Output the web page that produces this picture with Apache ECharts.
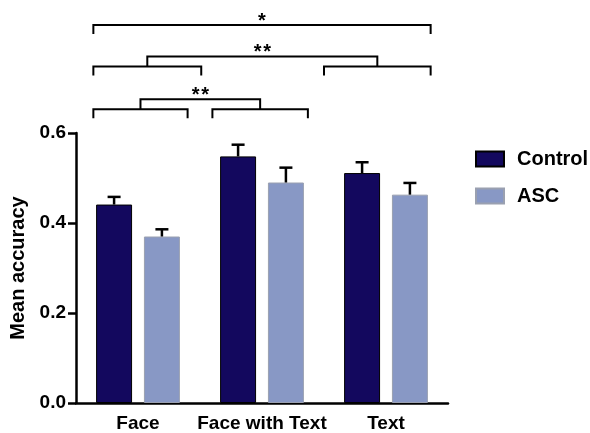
<!DOCTYPE html>
<html>
<head>
<meta charset="utf-8">
<script src="https://cdn.jsdelivr.net/npm/echarts@6/dist/echarts.min.js"></script>
<style>html,body{margin:0;padding:0;background:#fff}#c{width:590px;height:433px}</style>
</head>
<body>
<div id="c"></div>
<script>
var categories = ['Face', 'Face with Text', 'Text'];
var controlMean = [0.441, 0.548, 0.511];
var controlErr = [0.017, 0.026, 0.024];
var ascMean = [0.370, 0.490, 0.463];
var ascErr = [0.016, 0.033, 0.026];
var yTicks = [0.0, 0.2, 0.4, 0.6];
// significance brackets in category units (x) and accuracy units (y)
var groupBrackets = [
  { left: [-0.36, 0.40], right: [0.60, 1.37], level: 0.653, label: '*\u200A*' },
  { left: [-0.36, 0.51], right: [1.50, 2.36], level: 0.748, label: '*\u200A*' }
];
var spanBrackets = [
  { span: [-0.36, 2.36], level: 0.840, label: '*' }
];

var FONT = '"Liberation Sans", Arial, Helvetica, sans-serif';
var BAR_W = 0.29, BAR_GAP = 0.33;
var chart = echarts.init(document.getElementById('c'), null, { renderer: 'canvas' });

function errRender(means, errs, sign) {
  return function (params, api) {
    var i = params.dataIndex;
    var bw = api.size([1, 0])[0];
    var barW = bw * BAR_W;
    var off = sign * barW * (1 + BAR_GAP) / 2;
    var p0 = api.coord([i, means[i]]);
    var p1 = api.coord([i, means[i] + errs[i]]);
    var x = p0[0] + off;
    var cap = 6.5;
    var st = { stroke: '#000', lineWidth: 2.5 };
    return { type: 'group', children: [
      { type: 'line', shape: { x1: x, y1: p0[1], x2: x, y2: p1[1] }, style: st },
      { type: 'line', shape: { x1: x - cap, y1: p1[1], x2: x + cap, y2: p1[1] }, style: st }
    ] };
  };
}

function bracketRender(params, api) {
  var bw = api.size([1, 0])[0];
  var c0 = api.coord([0, 0])[0];
  function X(u) { return c0 + u * bw; }
  function Y(v) { return api.coord([0, v])[1]; }
  var st = { stroke: '#000', lineWidth: 2, fill: null };
  var children = [];
  var legH = 9, connH = 10;
  var starFont = 'bold 20px ' + FONT;
  groupBrackets.forEach(function (b) {
    var yS = Y(b.level);
    [b.left, b.right].forEach(function (s) {
      children.push({ type: 'polyline', shape: { points: [[X(s[0]), yS + legH], [X(s[0]), yS], [X(s[1]), yS], [X(s[1]), yS + legH]] }, style: st });
    });
    var lc = X((b.left[0] + b.left[1]) / 2), rc = X((b.right[0] + b.right[1]) / 2);
    var yC = yS - connH;
    children.push({ type: 'polyline', shape: { points: [[lc, yS], [lc, yC], [rc, yC], [rc, yS]] }, style: st });
    children.push({ type: 'text', style: { text: b.label, x: (lc + rc) / 2, y: yC - 4, align: 'center', verticalAlign: 'middle', font: starFont, fill: '#000' } });
  });
  spanBrackets.forEach(function (b) {
    var yS = Y(b.level);
    var a = X(b.span[0]), z = X(b.span[1]);
    children.push({ type: 'polyline', shape: { points: [[a, yS + legH], [a, yS], [z, yS], [z, yS + legH]] }, style: st });
    children.push({ type: 'text', style: { text: b.label, x: (a + z) / 2, y: yS - 4, align: 'center', verticalAlign: 'middle', font: starFont, fill: '#000' } });
  });
  return { type: 'group', children: children };
}

var option = {
  animation: false,
  backgroundColor: '#fff',
  textStyle: { fontFamily: FONT },
  grid: { left: 76, right: 142, top: 133, bottom: 28 },
  legend: {
    data: ['Control', 'ASC'],
    orient: 'vertical',
    left: 470, top: 144,
    itemWidth: 28, itemHeight: 15, itemGap: 17,
    icon: 'rect',
    textStyle: { fontSize: 20, fontWeight: 'bold', color: '#000', fontFamily: FONT, padding: [0, 0, 0, 8] }
  },
  xAxis: {
    type: 'category',
    data: categories,
    axisLine: { lineStyle: { color: '#000', width: 2.5 } },
    axisTick: { alignWithLabel: true, length: 6, lineStyle: { color: '#000', width: 2.5 } },
    axisLabel: { interval: 0, fontSize: 19, fontWeight: 'bold', color: '#000', margin: 11, fontFamily: FONT }
  },
  yAxis: {
    type: 'value',
    min: 0, max: 0.6, interval: 0.2,
    name: 'Mean accuracy',
    nameLocation: 'middle',
    nameGap: 47,
    nameTextStyle: { fontSize: 20, fontWeight: 'bold', color: '#000', fontFamily: FONT },
    axisLine: { show: true, lineStyle: { color: '#000', width: 2.5 } },
    axisTick: { show: true, length: 8, lineStyle: { color: '#000', width: 2.5 } },
    splitLine: { show: false },
    axisLabel: {
      fontSize: 19, fontWeight: 'bold', color: '#000', margin: 10, fontFamily: FONT,
      formatter: function (v) {
        for (var k = 0; k < yTicks.length; k++) if (Math.abs(yTicks[k] - v) < 1e-9) return yTicks[k].toFixed(1);
        return '';
      }
    }
  },
  series: [
    { name: 'Control', type: 'bar', data: controlMean, barWidth: (BAR_W * 100) + '%', barGap: (BAR_GAP * 100) + '%',
      itemStyle: { color: '#13085e', borderColor: '#000', borderWidth: 1 } },
    { name: 'ASC', type: 'bar', data: ascMean, barWidth: (BAR_W * 100) + '%', barGap: (BAR_GAP * 100) + '%',
      itemStyle: { color: '#8898c5', borderColor: '#9aa0b0', borderWidth: 1 } },
    { name: 'errC', type: 'custom', data: controlMean.map(function (v, i) { return [i, v]; }), renderItem: errRender(controlMean, controlErr, -1), z: 5, silent: true },
    { name: 'errA', type: 'custom', data: ascMean.map(function (v, i) { return [i, v]; }), renderItem: errRender(ascMean, ascErr, 1), z: 5, silent: true },
    { name: 'sig', type: 'custom', data: [[0, 0]], renderItem: bracketRender, clip: false, z: 6, silent: true }
  ]
};
chart.setOption(option);
</script>
</body>
</html>
